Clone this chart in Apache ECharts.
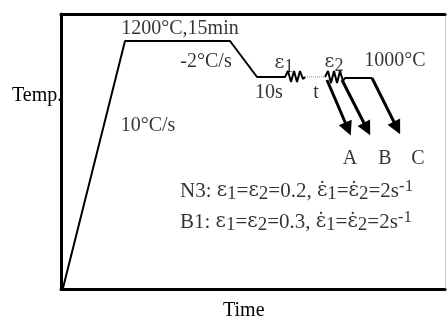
<!DOCTYPE html>
<html>
<head>
<meta charset="utf-8">
<script src="https://cdn.jsdelivr.net/npm/echarts@6/dist/echarts.min.js"></script>
<style>
  html, body { margin: 0; padding: 0; background: #fff; }
  #chart { width: 447px; height: 328px; }
</style>
</head>
<body>
<div id="chart"></div>
<script>
// schematic units: time and temperature in arbitrary steps
const profileHeat = [[2, 1], [64, 248], [169, 248], [196, 212], [224, 212],
    [227, 218], [230, 207], [233, 218], [236, 207], [239, 218], [242, 210], [244, 212]];
const profileHold = [[244, 212], [264, 212]];
const profileSecond = [[264, 212], [267, 218], [270, 206], [273, 218], [276, 206],
    [279, 218], [282, 208], [284, 211], [311, 211]];
const quenchA = [[266, 209], [287, 160]];
const quenchB = [[281, 209], [306, 160]];
const quenchC = [[311, 211], [336, 161]];

const notes = [
    [119, 260, '1200°C,15min'],
    [145, 227, '-2°C/s'],
    [208, 196, '10s'],
    [255, 196, 't'],
    [334, 228, '1000°C'],
    [87, 163, '10°C/s'],
    [289, 130, 'A'],
    [324, 130, 'B'],
    [357, 130, 'C']
];
const strainNotes = [
    [223, 226, '{e|ε}{sub|1}'],
    [273, 227, '{e|ε}{sub|2}']
];
const conditionLines = [
    [119, 98, '{b|N3: }{e|ε}{sub|1}{b|=}{e|ε}{sub|2}{b|=0.2, }{e|ε̇}{sub|1}{b|=}{e|ε̇}{sub|2}{b|=2s}{sup|-1}'],
    [119, 67, '{b|B1: }{e|ε}{sub|1}{b|=}{e|ε}{sub|2}{b|=0.3, }{e|ε̇}{sub|1}{b|=}{e|ε̇}{sub|2}{b|=2s}{sup|-1}']
];

const font = 'Liberation Serif';
function richText(size) {
    return {
        b: { fontSize: size, fontFamily: font, color: '#000', lineHeight: 26 },
        e: { fontSize: size - 1, fontFamily: 'DejaVu Serif', color: '#000', lineHeight: 26 },
        sub: { fontSize: size - 2, fontFamily: font, color: '#000', verticalAlign: 'bottom', lineHeight: 26 },
        sup: { fontSize: size - 4, fontFamily: font, color: '#000', verticalAlign: 'top', lineHeight: 26 }
    };
}

const chart = echarts.init(document.getElementById('chart'));

function lineSeries(data, type) {
    return {
        type: 'line',
        data: data,
        symbol: 'none',
        silent: true,
        lineStyle: type === 'dotted'
            ? { color: '#888', width: 1, type: 'dotted' }
            : { color: '#000', width: 2 }
    };
}

function frameAxis(extra, color, width) {
    return Object.assign({
        type: 'value',
        axisLine: { show: true, onZero: false, lineStyle: { color: color, width: width } },
        axisTick: { show: false },
        axisLabel: { show: false },
        splitLine: { show: false }
    }, extra);
}

const options = {
    animation: false,
    grid: { left: 61, right: 2, top: 14, bottom: 39 },
    xAxis: [
        frameAxis({ min: 0, max: 384, position: 'bottom' }, '#000', 3),
        frameAxis({ min: 0, max: 384, position: 'top' }, '#000', 3)
    ],
    yAxis: [
        frameAxis({ min: 0, max: 275, position: 'left' }, '#000', 3),
        frameAxis({ min: 0, max: 275, position: 'right' }, '#ccc', 1)
    ],
    graphic: [
        { type: 'text', left: 12, top: 86, style: { text: 'Temp.', font: '20px "Liberation Serif"', fill: '#000' } },
        { type: 'text', left: 223, top: 301, style: { text: 'Time', font: '20px "Liberation Serif"', fill: '#000' } }
    ],
    series: [
        lineSeries(profileHeat),
        lineSeries(profileHold, 'dotted'),
        lineSeries(profileSecond),
        {
            type: 'lines',
            coordinateSystem: 'cartesian2d',
            polyline: false,
            silent: true,
            symbol: ['none', 'triangle'],
            symbolSize: [0, 14],
            lineStyle: { color: '#000', width: 3, opacity: 1 },
            data: [quenchA, quenchB, quenchC].map(function (c) { return { coords: c }; })
        },
        {
            type: 'scatter',
            symbolSize: 0,
            silent: true,
            data: notes.map(function (n) { return { value: [n[0], n[1]], name: n[2] }; }),
            label: { show: true, position: 'inside', formatter: '{b}', color: '#000', fontSize: 20, fontFamily: font }
        },
        {
            type: 'scatter',
            symbolSize: 0,
            silent: true,
            data: strainNotes.map(function (n) { return { value: [n[0], n[1]], name: n[2] }; }),
            label: { show: true, position: 'inside', formatter: '{b}', rich: richText(20) }
        },
        {
            type: 'scatter',
            symbolSize: 0,
            silent: true,
            data: conditionLines.map(function (n) { return { value: [n[0], n[1]], name: n[2] }; }),
            label: { show: true, position: 'right', distance: 0, formatter: '{b}', rich: richText(21) }
        }
    ]
};
chart.setOption(options, true);
</script>
</body>
</html>
